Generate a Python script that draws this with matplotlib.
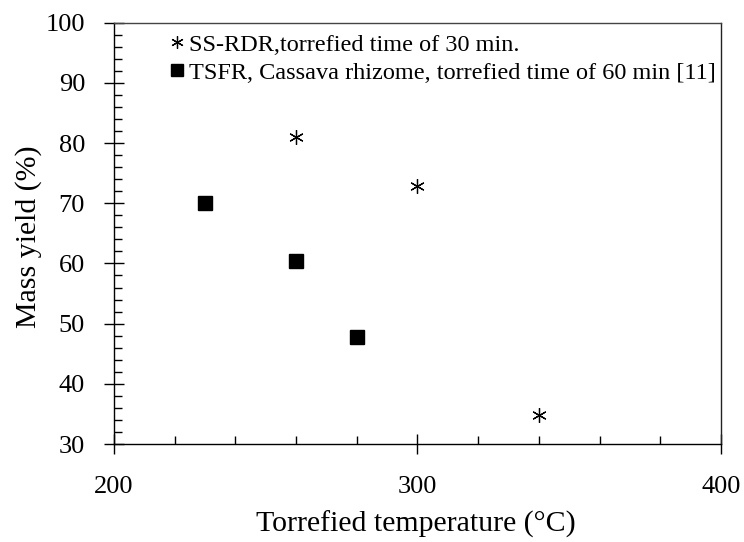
import matplotlib

matplotlib.use("Agg")

import matplotlib.pyplot as plt  # noqa: E402
from matplotlib.ticker import MultipleLocator  # noqa: E402

# ---------- Data ----------

SS_RDR_TEMP = [260, 300, 340]
SS_RDR_YIELD = [81.0, 72.8, 34.8]

TSFR_TEMP = [230, 260, 280]
TSFR_YIELD = [70.0, 60.4, 47.7]

SS_RDR_LABEL = "SS-RDR,torrefied time of 30 min."
TSFR_LABEL = "TSFR, Cassava rhizome, torrefied time of 60 min [11]"

X_TICKS = [200, 300, 400]
Y_TICKS = [30, 40, 50, 60, 70, 80, 90, 100]

# ---------- Figure ----------

plt.rcParams["font.family"] = ["Liberation Serif", "DejaVu Serif"]

fig = plt.figure(figsize=(7.44, 5.42), dpi=100)
ax = fig.add_axes([0.1532, 0.1808, 0.8158, 0.7773])

asterisk = (6, 2, 0)
ax.plot(SS_RDR_TEMP, SS_RDR_YIELD, linestyle="none", marker=asterisk,
        markersize=10.5, markeredgewidth=0.9, color="black", label=SS_RDR_LABEL)
ax.plot(TSFR_TEMP, TSFR_YIELD, linestyle="none", marker="s",
        markersize=9.5, color="black", label=TSFR_LABEL)

ax.set_xlim(200, 400)
ax.set_ylim(30, 100)
ax.set_xticks(X_TICKS)
ax.set_yticks(Y_TICKS)
ax.xaxis.set_minor_locator(MultipleLocator(20))
ax.yaxis.set_minor_locator(MultipleLocator(2))

ax.tick_params(which="major", direction="inout", length=13.7, width=1,
               labelsize=19, colors="black")
ax.tick_params(which="minor", direction="in", length=5.5, width=1)
ax.tick_params(axis="y", which="major", pad=14)
ax.tick_params(axis="x", which="major", pad=16)

for side in ["left", "bottom", "top", "right"]:
    ax.spines[side].set_linewidth(1)
ax.spines["top"].set_color("#444444")
ax.spines["right"].set_color("#222222")

ax.set_xlabel("Torrefied temperature (°C)", fontsize=21.5)
ax.set_ylabel("Mass yield (%)", fontsize=21.5)
ax.xaxis.set_label_coords(0.4975, -0.159)
ax.yaxis.set_label_coords(-0.1186, 0.492)

leg = ax.legend(loc="upper left", bbox_to_anchor=(0.0939, 0.974), frameon=False,
                fontsize=17.5, handlelength=0.5, handletextpad=0.25,
                labelspacing=0.25, borderaxespad=0, borderpad=0,
                markerscale=0.85)

fig.savefig("out.png", dpi=100)
